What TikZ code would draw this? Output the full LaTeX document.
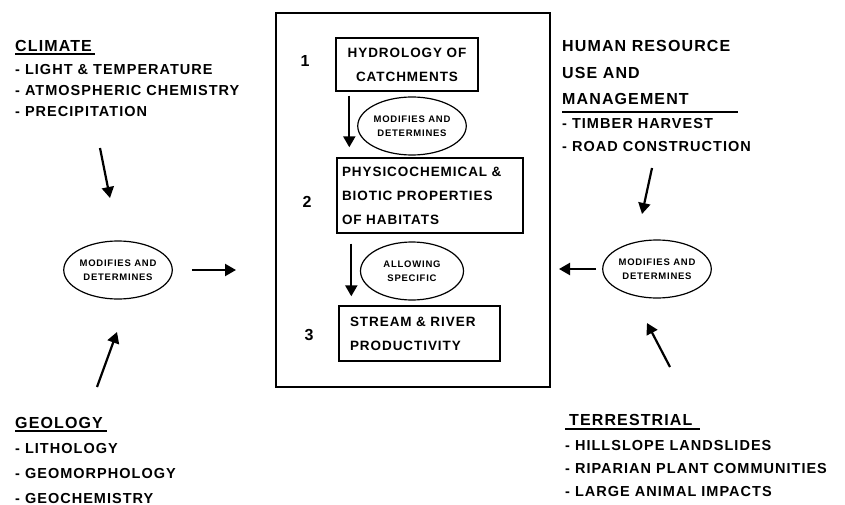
\documentclass[tikz,border=0pt]{standalone}
\usepackage{fontspec}
\setmainfont{Liberation Sans}[LetterSpace=7]
\usetikzlibrary{arrows.meta,shapes.geometric}

\tikzset{
    txt/.style={anchor=base west, inner sep=0pt, font=\fontsize{14.5}{17}\selectfont\bfseries},
    head/.style={anchor=base west, inner sep=0pt, font=\fontsize{16}{19}\selectfont\bfseries},
    stage/.style={draw, line width=1.4pt, inner ysep=0pt, font=\fontsize{13.5}{24}\selectfont\bfseries},
    oval/.style={draw, ellipse, line width=1.2pt, minimum width=103pt, minimum height=58pt,
        inner sep=0pt, align=center, font=\fontsize{9.5}{14}\selectfont\bfseries\addfontfeature{LetterSpace=8}},
    num/.style={anchor=base, font=\fontsize{16}{19}\selectfont\bfseries},
    arr/.style={-{Triangle[width=12pt,length=11pt]}, line width=2.2pt},
    ul/.style={line width=2.2pt}
}

\begin{document}
\begin{tikzpicture}[x=1pt,y=-1pt]
    \useasboundingbox (0,0) rectangle (845,505);

    % Central frame
    \node[draw, line width=2pt, minimum width=274pt, minimum height=374pt] (frame) at (413,200) {};

    % Stages
    \node[stage, minimum width=142pt, minimum height=53pt, text width=126pt, align=center] (b1) at (407,64.5)
        {HYDROLOGY OF\\CATCHMENTS};
    \node[stage, minimum width=186pt, minimum height=75pt, inner xsep=5pt, text width=176pt, align=left] (b2) at (430,195.5)
        {PHYSICOCHEMICAL \&\\BIOTIC PROPERTIES\\OF HABITATS};
    \node[stage, minimum width=161pt, minimum height=55pt, inner xsep=11pt, text width=139pt, align=left] (b3) at (419.5,333.5)
        {STREAM \& RIVER\\PRODUCTIVITY};
    \node[num] (n1) at (305,67) {1};
    \node[num] (n2) at (307,207) {2};
    \node[num] (n3) at (309,340) {3};

    \node[oval] (e1) at (412,126) {MODIFIES AND\\DETERMINES};
    \node[oval] (e2) at (412,271) {ALLOWING\\SPECIFIC};
    \draw[arr] ([xshift=14pt,yshift=-4pt]b1.south west) -- ([xshift=13pt,yshift=10pt]b2.north west);
    \draw[arr] ([xshift=15pt,yshift=-10pt]b2.south west) -- ([xshift=13pt,yshift=9pt]b3.north west);

    % Climate and geology
    \node[head] (clim) at (15,52) {CLIMATE};
    \draw[ul] ([yshift=-2pt]clim.south west) -- ([xshift=3pt,yshift=-2pt]clim.south east);
    \foreach \t [count=\i] in {LIGHT \& TEMPERATURE, ATMOSPHERIC CHEMISTRY, PRECIPITATION}
        \node[txt] (clim\i) at (15,54+21*\i) {- \t};

    \node[head] (geo) at (15,428) {GEOLOGY};
    \draw[ul] ([yshift=-3pt]geo.south west) -- ([xshift=4pt,yshift=-3pt]geo.south east);
    \foreach \t [count=\i] in {LITHOLOGY, GEOMORPHOLOGY, GEOCHEMISTRY}
        \node[txt] (geo\i) at (15,428+25*\i) {- \t};

    \node[oval] (eL) at (118,270) {MODIFIES AND\\DETERMINES};
    \coordinate (climOut) at (100,148);
    \coordinate (climIn) at (110,198);
    \coordinate (geoOut) at (97,387);
    \coordinate (geoIn) at (117,332);
    \draw[arr] (climOut) -- (climIn);
    \draw[arr] (geoOut) -- (geoIn);
    \draw[arr, shorten <=19pt, shorten >=39pt] (eL.east) -- (eL.east -| frame.west);

    % Human use and terrestrial
    \foreach \t [count=\i] in {HUMAN RESOURCE, USE AND, MANAGEMENT}
        \node[head] (hum\i) at (562,25.5+26.5*\i) {\t};
    \draw[ul] ([yshift=-7pt]hum3.south west) -- ++(176,0);
    \foreach \t [count=\i] in {TIMBER HARVEST, ROAD CONSTRUCTION}
        \node[txt] (hum\t) at (562,106+23*\i) {- \t};

    \node[head] (ter) at (569,425) {TERRESTRIAL};
    \draw[ul] ([xshift=-4pt,yshift=-4pt]ter.south west) -- ([xshift=7pt,yshift=-4pt]ter.south east);
    \foreach \t [count=\i] in {HILLSLOPE LANDSLIDES, RIPARIAN PLANT COMMUNITIES, LARGE ANIMAL IMPACTS}
        \node[txt] (ter\i) at (565,427+23*\i) {- \t};

    \node[oval] (eR) at (657,269) {MODIFIES AND\\DETERMINES};
    \coordinate (humOut) at (652,168);
    \coordinate (humIn) at (642,214);
    \coordinate (terOut) at (670,367);
    \coordinate (terIn) at (647,323);
    \draw[arr] (humOut) -- (humIn);
    \draw[arr] (terOut) -- (terIn);
    \draw[arr, shorten <=6pt, shorten >=8pt] (eR.west) -- (eR.west -| frame.east);
\end{tikzpicture}
\end{document}
